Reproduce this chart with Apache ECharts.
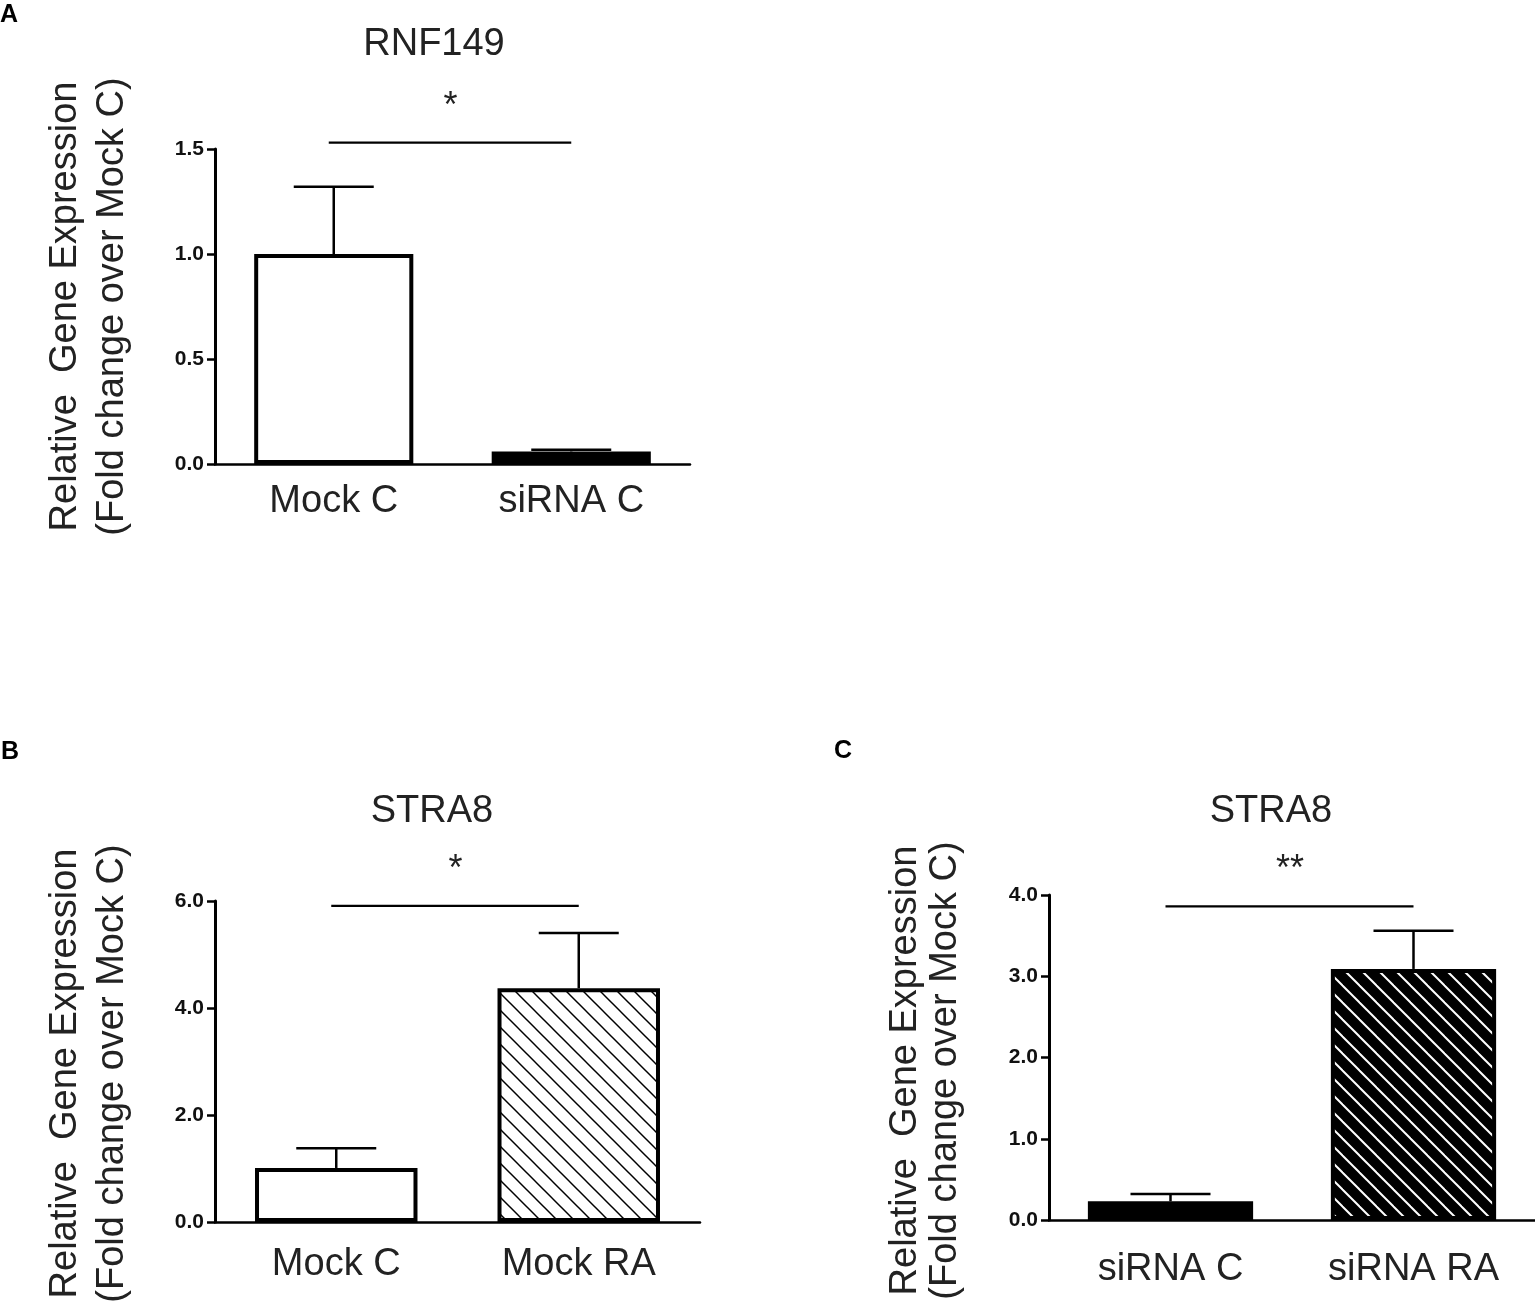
<!DOCTYPE html>
<html>
<head>
<meta charset="utf-8">
<script src="https://cdn.jsdelivr.net/npm/echarts@6/dist/echarts.min.js"></script>
<style>
html,body{margin:0;padding:0;background:#fff;}
#chart{width:1535px;height:1305px;}
</style>
</head>
<body>
<div id="chart"></div>
<script>
// ---------- data ----------
const catsA = ['Mock C', 'siRNA C'];
const meanA = [1.0, 0.06];
const semA  = [0.32, 0.008];

const catsB = ['Mock C', 'Mock RA'];
const meanB = [1.01, 4.37];
const semB  = [0.37, 1.03];

const catsC = ['siRNA C', 'siRNA RA'];
const meanC = [0.23, 3.09];
const semC  = [0.09, 0.47];

const titles   = ['RNF149', 'STRA8', 'STRA8'];
const panelTags = ['A', 'B', 'C'];
const yMax     = [1.5, 6, 4];
const yStep    = [0.5, 2, 1];
const sigLevel = [1.53, 5.91, 3.86];
const sigMark  = ['*', '*', '**'];
const yName = 'Relative  Gene Expression\n(Fold change over Mock C)';

// ---------- styles ----------
const FONT = 'Arial, "Liberation Sans", sans-serif';
const TXT = '#222';

function hatch(bg, fg, lw, s) {
  const c = document.createElement('canvas');
  c.width = s; c.height = s;
  const g = c.getContext('2d');
  g.fillStyle = bg; g.fillRect(0, 0, s, s);
  g.strokeStyle = fg; g.lineWidth = lw;
  for (const off of [-s, 0, s]) {
    g.beginPath();
    g.moveTo(off - 1, -1);
    g.lineTo(off + s + 1, s + 1);
    g.stroke();
  }
  return c;
}
const whiteHatch = { image: hatch('#fff', '#000', 1.5, 17), repeat: 'repeat' };
const blackHatch = { image: hatch('#000', '#fff', 2, 17), repeat: 'repeat' };

const fills = [
  ['#fff', '#000'],
  ['#fff', whiteHatch],
  ['#000', blackHatch]
];

const grids = [
  { left: 215, top: 149, width: 475, height: 315 },
  { left: 215, top: 901, width: 485, height: 321 },
  { left: 1049, top: 895, width: 486, height: 325 }
];
const labelMargin = [19, 24, 31];
const nameGap = [79, 79, 83];
const nameLH = [47, 47, 40];
const namePad = [[0, 0, 0, 0], [0, 24, 0, 0], [0, 26, 0, 0]];
const barW = ['67%', '67%', '68%'];
const titlePos = [
  { left: 429, top: 21 },
  { left: 427, top: 788 },
  { left: 1266, top: 788 }
];
const tagPos = [
  { left: 0, top: 3 },
  { left: 1, top: 740 },
  { left: 834, top: 739 }
];

const cats = [catsA, catsB, catsC];
const means = [meanA, meanB, meanC];
const sems = [semA, semB, semC];

function errRender(params, api) {
  const i = api.value(0), m = api.value(1), e = api.value(2);
  const p0 = api.coord([i, m]);
  const p1 = api.coord([i, m + e]);
  return {
    type: 'group',
    children: [
      { type: 'line', shape: { x1: p0[0], y1: p0[1], x2: p1[0], y2: p1[1] }, style: { stroke: '#000', lineWidth: 2.5 } },
      { type: 'line', shape: { x1: p1[0] - 40, y1: p1[1], x2: p1[0] + 40, y2: p1[1] }, style: { stroke: '#000', lineWidth: 2.5 } }
    ]
  };
}
function sigRender(k) {
  return function (params, api) {
    const a = api.coord([api.value(0), api.value(2)]);
    const b = api.coord([api.value(1), api.value(2)]);
    return {
      type: 'group',
      children: [
        { type: 'line', shape: { x1: a[0] - 5, y1: a[1], x2: b[0], y2: b[1] }, style: { stroke: '#000', lineWidth: 2.2 } },
        { type: 'text', x: (a[0] + b[0]) / 2 - 2, y: a[1] - 36,
          style: { text: sigMark[k], fill: TXT, font: '36px ' + FONT, align: 'center', verticalAlign: 'middle' } }
      ]
    };
  };
}

const option = {
  animation: false,
  backgroundColor: '#fff',
  title: [],
  grid: [],
  xAxis: [],
  yAxis: [],
  series: []
};

for (let k = 0; k < 3; k++) {
  option.title.push({
    text: titles[k], left: titlePos[k].left, top: titlePos[k].top, textAlign: 'center',
    textStyle: { fontFamily: FONT, fontSize: 38, fontWeight: 'normal', color: TXT }
  });
  option.title.push({
    text: panelTags[k], left: tagPos[k].left, top: tagPos[k].top, padding: 0,
    textStyle: { fontFamily: FONT, fontSize: 25, fontWeight: 'bold', color: '#000' }
  });
  option.grid.push(grids[k]);
  option.xAxis.push({
    type: 'category', gridIndex: k, data: cats[k],
    axisLine: { lineStyle: { color: '#000', width: 2.5 } },
    axisTick: { show: false },
    axisLabel: { margin: labelMargin[k], fontFamily: FONT, fontSize: 38, color: TXT }
  });
  option.yAxis.push({
    type: 'value', gridIndex: k, min: 0, max: yMax[k], interval: yStep[k],
    name: yName, nameLocation: 'middle', nameRotate: 90, nameGap: nameGap[k],
    nameTextStyle: { fontFamily: FONT, fontSize: 38, color: TXT, lineHeight: nameLH[k], align: 'center', padding: namePad[k] },
    axisLine: { show: true, lineStyle: { color: '#000', width: 3 } },
    axisTick: { show: true, length: 8, lineStyle: { color: '#000', width: 2.5 } },
    splitLine: { show: false },
    axisLabel: { margin: 11, fontFamily: FONT, fontSize: 21, fontWeight: 'bold', color: '#111',
      formatter: v => v.toFixed(1) }
  });
  option.series.push({
    type: 'bar', xAxisIndex: k, yAxisIndex: k, barWidth: barW[k],
    data: means[k].map((v, i) => ({ value: v, itemStyle: { color: fills[k][i] } })),
    itemStyle: { borderColor: '#000', borderWidth: 4 }
  });
  option.series.push({
    type: 'custom', xAxisIndex: k, yAxisIndex: k, clip: false, z: 3,
    renderItem: errRender,
    encode: { x: 0, y: 1 },
    data: means[k].map((m, i) => [i, m, sems[k][i]])
  });
  option.series.push({
    type: 'custom', xAxisIndex: k, yAxisIndex: k, clip: false, z: 3,
    renderItem: sigRender(k),
    encode: { x: 0, y: 2 },
    data: [[0, 1, sigLevel[k]]]
  });
}

const chart = echarts.init(document.getElementById('chart'), null, { renderer: 'canvas' });
chart.setOption(option);
</script>
</body>
</html>
